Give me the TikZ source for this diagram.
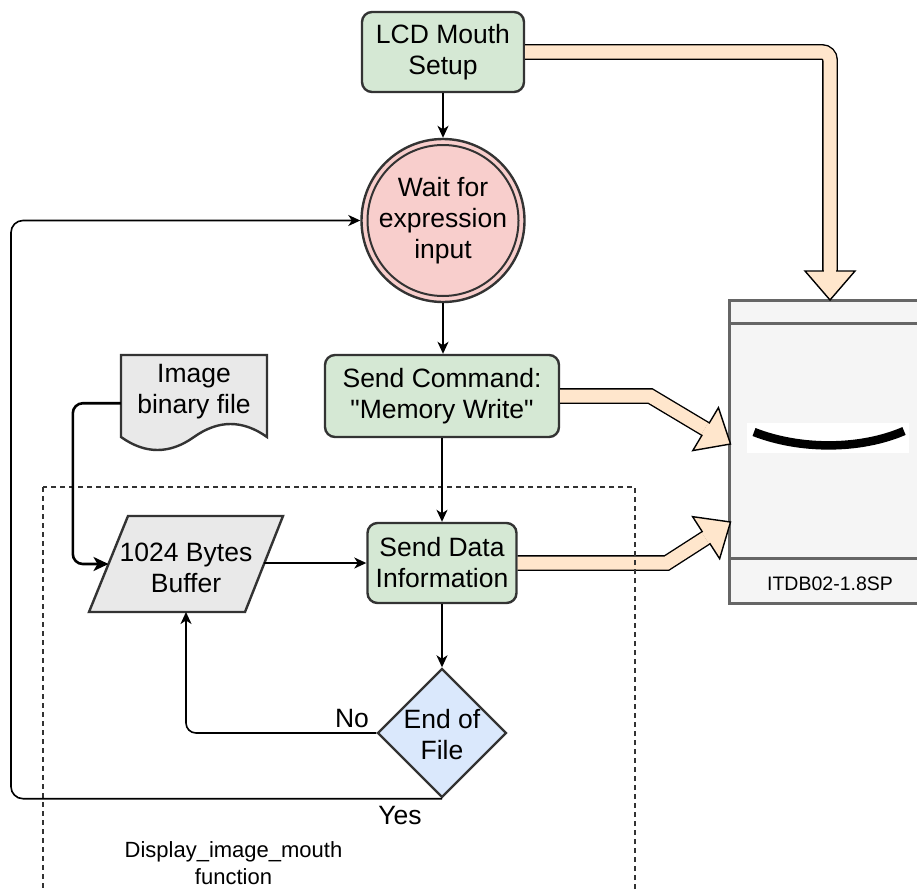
\documentclass[tikz,border=0pt]{standalone}
\usepackage{fontspec}
\setmainfont{Liberation Sans}[Ligatures=TeXOff]
\usetikzlibrary{shapes.geometric,arrows.meta,calc}

\definecolor{edgegray}{HTML}{333333}
\definecolor{procgreen}{HTML}{D5E8D4}
\definecolor{waitpink}{HTML}{F8CECC}
\definecolor{decblue}{HTML}{DAE8FC}
\definecolor{filegray}{HTML}{E9E9E9}
\definecolor{peach}{HTML}{FFE6CC}
\definecolor{lcdgray}{HTML}{F5F5F5}
\definecolor{lcdedge}{HTML}{666666}

\tikzset{
  proc/.style={draw=edgegray, line width=2.4pt, fill=procgreen, rounded corners=10pt,
               inner sep=0pt, align=center},
  txt/.style={align=center, inner sep=0pt},
  flow/.style={draw=black, line width=1.6pt, -{Stealth[length=12pt,width=11pt,inset=3.5pt]}},
  flowthick/.style={draw=black, line width=2.6pt, -{Stealth[length=15pt,width=14pt,inset=4pt]}},
  fatband/.style={draw=black, line width=1.4pt, double=peach, double distance=13pt},
  fathead/.style={draw=black, line width=1.4pt, fill=peach, line join=miter},
}

% head of a wide arrow: #1 = point before the tip, #2 = tip
\newcommand\fatheadat[2]{%
  \coordinate (fhb) at ($(#2)!29pt!(#1)$);
  \filldraw[fathead] (#2) -- ($(fhb)!25pt!90:(#2)$) -- ($(fhb)!25pt!-90:(#2)$) -- cycle;
  \draw[draw=peach, line width=12.8pt] ($(fhb)!2pt!(#2)$) -- ($(fhb)!1pt!(#1)$);
}

\begin{document}
\begin{tikzpicture}[x=1pt, y=-1pt, font=\fontsize{26.5}{31}\selectfont]
\useasboundingbox (0,0) rectangle (917,891);
\clip (0,0) rectangle (917,891);

% LCD module
\node[draw=lcdedge, line width=3pt, fill=lcdgray, minimum width=202pt, minimum height=303pt,
      inner sep=0pt, outer sep=0pt] (disp) at (830,451.5) {};
\draw[lcdedge, line width=3pt] ($(disp.north west)+(0,23)$) -- ($(disp.north east)+(0,23)$);
\draw[lcdedge, line width=3pt] ($(disp.north west)+(0,258)$) -- ($(disp.north east)+(0,258)$);
\fill[white] (747,423) rectangle (909,453);
\draw[black, line width=8.5pt] (754,432) .. controls (800,450) and (860,450) .. (904,431);
\node[font=\fontsize{19.5}{23}\selectfont, inner sep=0pt] (disptxt) at (830,583.5) {ITDB02-1.8SP};

% flow nodes
\node[proc, minimum width=162pt, minimum height=80pt] (lcd) at (443,52) {LCD Mouth\\Setup};
\node[circle, draw=edgegray, line width=2.4pt, fill=waitpink, minimum size=163pt, inner sep=0pt]
      (wait) at (443,220.5) {};
\draw[edgegray, line width=2pt] (wait.center) circle (75.5pt);
\node[txt] (waittxt) at (wait.center) {Wait for\\expression\\input};

\node[proc, minimum width=234pt, minimum height=82pt] (scmd) at (442,396) {Send Command:\\"Memory Write"};
\node[proc, minimum width=149pt, minimum height=80pt] (sdata) at (442,563) {Send Data\\Information};

\node[diamond, draw=edgegray, line width=2.4pt, fill=decblue, minimum width=129pt,
      minimum height=129pt, inner sep=0pt] (eof) at (442,733) {};
\node[txt] (eoftxt) at (442,735) {End of\\File};

% image file (document shape)
\node[minimum width=146pt, minimum height=96.5pt, inner sep=0pt] (doc) at (194,403.25) {};
\filldraw[draw=edgegray, line width=2.4pt, fill=filegray]
  (121,355) -- (267,355) -- (267,437)
  .. controls (242.67,419.67) and (218.33,419.67) .. (194,437)
  .. controls (169.67,454.33) and (145.33,454.33) .. (121,437) -- cycle;
\node[txt] (doctxt) at (194,392) {Image\\binary file};

% buffer (parallelogram)
\filldraw[draw=edgegray, line width=2.4pt, fill=filegray]
  (128,516) -- (283,516) -- (245,612) -- (89,612) -- cycle;
\node[txt] (buf) at (186,567.5) {1024 Bytes\\Buffer};
\coordinate (bufL) at (108.5,564);
\coordinate (bufR) at (264.4,563);
\coordinate (bufB) at (186,612);

% wide arrows into the LCD module
\coordinate (k1) at (lcd.east -| disp.north);
\coordinate (h1) at ($(disp.north)!29pt!(k1)$);
\draw[fatband, rounded corners=8pt] (lcd.east) -- (k1) -- (h1);
\fatheadat{k1}{disp.north}

\coordinate (k2) at ($(scmd.east)+(90,0)$);
\coordinate (t2) at ($(disp.north west)+(1.5,144)$);
\coordinate (h2) at ($(t2)!29pt!(k2)$);
\draw[fatband] (scmd.east) -- (k2) -- (h2);
\fatheadat{k2}{t2}

\coordinate (k3) at ($(sdata.east)+(149,0)$);
\coordinate (t3) at ($(disp.north west)+(1.5,222)$);
\coordinate (h3) at ($(t3)!29pt!(k3)$);
\draw[fatband] (sdata.east) -- (k3) -- (h3);
\fatheadat{k3}{t3}

% function boundary
\draw[edgegray, line width=1.3pt, dash pattern=on 5pt off 4pt] (43,487) rectangle (635,905);
\node[font=\fontsize{22}{26.5}\selectfont, txt] (fnlab) at (233.5,863) {Display\_image\_mouth\\function};

% connectors
\draw[flow] (lcd) -- (wait);
\draw[flow] (wait.south) -- (wait.south |- scmd.north);
\draw[flow] (scmd.south) -- (sdata.north);
\draw[flow] (sdata.south) -- (eof.north);
\draw[flow] (bufR) -- (sdata.west |- bufR);
\draw[flowthick, rounded corners=10pt] (doc.west) -- ++(-48,0) |- (bufL);
\draw[flow, rounded corners=10pt] (eof.west) -| (bufB);
\draw[flow, rounded corners=12pt] (eof.south) -- ++(-431,0) |- (wait.west);

\node[txt] (nolab) at (352,719) {No};
\node[txt] (yeslab) at (400,815) {Yes};
\end{tikzpicture}
\end{document}
